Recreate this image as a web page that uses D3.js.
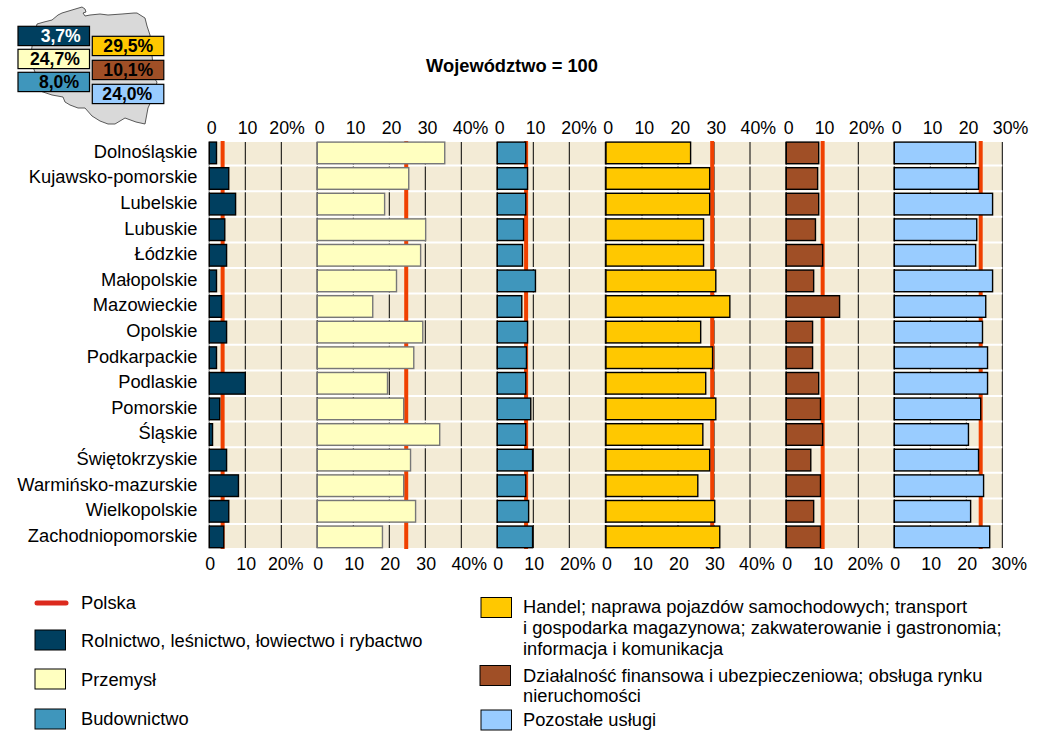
<!DOCTYPE html>
<html>
<head>
<meta charset="utf-8">
<script src="https://cdn.jsdelivr.net/npm/d3@7"></script>
<style>
  body { margin: 0; background: #fff; }
  text { font-family: "Liberation Sans", Arial, sans-serif; fill: #000; }
</style>
</head>
<body>
<div id="chart"></div>
<script>
const regions = ["Dolnośląskie", "Kujawsko-pomorskie", "Lubelskie", "Lubuskie", "Łódzkie", "Małopolskie", "Mazowieckie", "Opolskie", "Podkarpackie", "Podlaskie", "Pomorskie", "Śląskie", "Świętokrzyskie", "Warmińsko-mazurskie", "Wielkopolskie", "Zachodniopomorskie"];

const rolnictwo = [2.0, 5.4, 7.3, 4.3, 4.8, 2.0, 3.4, 4.8, 2.0, 10.0, 2.9, 0.9, 4.8, 8.1, 5.4, 4.0];
const przemysl = [35.4, 25.4, 18.7, 30.1, 28.7, 22.0, 15.4, 29.3, 26.8, 19.5, 24.0, 34.0, 25.9, 24.0, 27.3, 18.1];
const budownictwo = [7.9, 8.4, 7.9, 7.3, 7.0, 10.6, 6.8, 8.4, 8.1, 7.9, 9.3, 7.9, 9.8, 7.9, 8.7, 9.8];
const handel = [23.5, 28.8, 28.8, 27.1, 27.1, 30.5, 34.4, 26.3, 29.6, 27.7, 30.5, 26.9, 28.8, 25.5, 30.2, 31.6];
const finanse = [9.0, 8.7, 9.0, 8.1, 10.1, 7.6, 14.8, 7.3, 7.3, 9.0, 9.5, 10.1, 6.8, 9.5, 7.6, 9.5];
const uslugi = [22.6, 23.4, 27.3, 22.9, 22.6, 27.3, 25.4, 24.5, 25.9, 25.9, 24.0, 20.6, 23.4, 24.8, 21.2, 26.5];

const polska = [3.7, 24.7, 8.0, 29.5, 10.1, 24.0];
const polskaLabels = ["3,7%", "24,7%", "8,0%", "29,5%", "10,1%", "24,0%"];

const ticks20 = [0, 10, 20];
const ticks30 = [0, 10, 20, 30];
const ticks40 = [0, 10, 20, 30, 40];

const colors = ["#003f5f", "#ffffc0", "#3f96bc", "#ffc800", "#a04f26", "#99ccff"];

const mapOutline = [[37, 24], [44, 22], [52, 20], [58, 15], [62, 13], [72, 10], [82, 7], [85, 9], [86, 12], [83, 13], [85, 16], [90, 15], [100, 14], [108, 15], [122, 14], [134, 13], [137, 13], [145, 18], [147, 26], [150, 35], [152, 55], [154, 78], [157, 82], [155, 90], [153, 97], [148, 108], [145, 124], [136, 122], [125, 118], [120, 121], [115, 124], [108, 124], [100, 121], [92, 116], [85, 108], [78, 108], [70, 105], [65, 102], [63, 97], [52, 95], [43, 92], [37, 90], [35, 72], [30, 60], [33, 40]];

const panels = [
    { values: rolnictwo, ticks: ticks20, left: 209.3, right: 317.3, max: 30, stroke: "#000", pctShift: 4.5 },
    { values: przemysl, ticks: ticks40, left: 317.3, right: 497.3, max: 50, stroke: "#777", pctShift: 8 },
    { values: budownictwo, ticks: ticks20, left: 497.3, right: 605.3, max: 30, stroke: "#000", pctShift: 8.5 },
    { values: handel, ticks: ticks40, left: 606, right: 786, max: 50, stroke: "#000", pctShift: 7 },
    { values: finanse, ticks: ticks20, left: 786.3, right: 894.3, max: 30, stroke: "#000", pctShift: 7 },
    { values: uslugi, ticks: ticks30, left: 894.3, right: 1002.3, max: 30, stroke: "#000", pctShift: 7 }
];

const svg = d3.select("#chart").append("svg")
    .attr("width", 1043)
    .attr("height", 744);

const y = d3.scaleBand().domain(regions).range([140, 549.6]);
const fontSize = 18.3;
const tickFontSize = 17.8;

// map with the national values
svg.append("path")
    .attr("d", d3.line().curve(d3.curveLinearClosed)(mapOutline))
    .attr("fill", "#d9d9d9")
    .attr("stroke", "#333")
    .attr("stroke-width", 0.8);

const mapBoxes = [[18, 26.3], [18, 49.3], [18, 72.3], [92.3, 36.3], [92.3, 60.3], [92.3, 84.3]];
const mapLabelOffsets = [42.7, 37, 41, 36, 36, 35];
polska.forEach((v, i) => {
    const g = svg.append("g").attr("transform", `translate(${mapBoxes[i][0]}, ${mapBoxes[i][1]})`);
    g.append("rect")
        .attr("width", 71.5)
        .attr("height", 19.3)
        .attr("fill", colors[i])
        .attr("stroke", "#000")
        .attr("stroke-width", 1.2);
    g.append("text")
        .attr("x", mapLabelOffsets[i])
        .attr("y", 9.7)
        .attr("dy", "0.36em")
        .attr("text-anchor", "middle")
        .attr("font-weight", "bold")
        .attr("font-size", 17.6)
        .style("fill", i === 0 ? "#fff" : "#000")
        .text(polskaLabels[i]);
});

svg.append("text")
    .attr("x", 512)
    .attr("y", 65)
    .attr("dy", "0.36em")
    .attr("text-anchor", "middle")
    .attr("font-weight", "bold")
    .attr("font-size", fontSize)
    .text("Województwo = 100");

// background, grid, separators
svg.append("rect")
    .attr("x", 209.3)
    .attr("y", 142)
    .attr("width", 793)
    .attr("height", 406)
    .attr("fill", "#f3ebd6");

panels.forEach((p) => {
    p.x = d3.scaleLinear().domain([0, p.max]).range([p.left, p.right]);
    const gridTicks = p.x.ticks(p.max / 10);
    svg.append("g")
        .selectAll("line")
        .data(gridTicks)
        .enter()
        .append("line")
        .attr("x1", (d) => p.x(d))
        .attr("x2", (d) => p.x(d))
        .attr("y1", 142)
        .attr("y2", 548)
        .attr("stroke", "#000")
        .attr("stroke-width", 1);
});

svg.append("g")
    .selectAll("line")
    .data(regions.slice(1))
    .enter()
    .append("line")
    .attr("x1", 209.3)
    .attr("x2", 1002.3)
    .attr("y1", (d) => y(d))
    .attr("y2", (d) => y(d))
    .attr("stroke", "#fff")
    .attr("stroke-width", 2);

panels.forEach((p, i) => {
    svg.append("line")
        .attr("x1", p.x(polska[i]))
        .attr("x2", p.x(polska[i]))
        .attr("y1", 141)
        .attr("y2", 549)
        .attr("stroke", "#f04000")
        .attr("stroke-width", 4);

    svg.append("g")
        .selectAll("rect")
        .data(p.values)
        .enter()
        .append("rect")
        .attr("x", p.x(0))
        .attr("y", (d, j) => y(regions[j]) + 2.1)
        .attr("width", (d) => p.x(d) - p.x(0))
        .attr("height", 21.6)
        .attr("fill", colors[i])
        .attr("stroke", p.stroke)
        .attr("stroke-width", 1.4);

    const drawAxis = (axis, ypos, base) => {
        const g = svg.append("g")
            .attr("transform", `translate(0, ${ypos})`)
            .call(axis.tickValues(p.ticks).tickSize(0).tickPadding(0)
                .tickFormat((d) => d === d3.max(p.ticks) ? `${d}%` : d));
        g.select(".domain").remove();
        g.selectAll("text")
            .attr("font-size", tickFontSize)
            .attr("font-family", null)
            .attr("y", 0)
            .attr("dy", "0.36em")
            .attr("dx", (d) => (d === d3.max(p.ticks) ? p.pctShift : 1) + base);
    };
    drawAxis(d3.axisTop(p.x), 128, 0.8);
    drawAxis(d3.axisBottom(p.x), 564, -0.6);
});

// region labels
svg.append("g")
    .selectAll("text")
    .data(regions)
    .enter()
    .append("text")
    .attr("x", 197.5)
    .attr("y", (d) => y(d) + y.bandwidth() / 2 - 1.5)
    .attr("dy", "0.36em")
    .attr("text-anchor", "end")
    .attr("font-size", fontSize)
    .text((d) => d);

// legend
svg.append("line")
    .attr("x1", 37)
    .attr("x2", 66)
    .attr("y1", 603)
    .attr("y2", 603)
    .attr("stroke", "#dc2a1e")
    .attr("stroke-width", 5)
    .attr("stroke-linecap", "round");

const legendItems = [
    { color: 0, x: 35, y: 630, lines: [["Rolnictwo, leśnictwo, łowiectwo i rybactwo", 640.5]] },
    { color: 1, x: 35, y: 669, lines: [["Przemysł", 679]] },
    { color: 2, x: 35, y: 709, lines: [["Budownictwo", 718.5]] },
    { color: 3, x: 481, y: 597.5, lines: [["Handel; naprawa pojazdów samochodowych; transport", 606.5], ["i gospodarka magazynowa; zakwaterowanie i gastronomia;", 627.5], ["informacja i komunikacja", 648.5]] },
    { color: 4, x: 480, y: 665.5, lines: [["Działalność finansowa i ubezpieczeniowa; obsługa rynku", 675], ["nieruchomości", 695.5]] },
    { color: 5, x: 481, y: 710, lines: [["Pozostałe usługi", 719.5]] }
];

legendItems.forEach((item) => {
    svg.append("rect")
        .attr("x", item.x)
        .attr("y", item.y)
        .attr("width", 30.5)
        .attr("height", 20)
        .attr("fill", colors[item.color])
        .attr("stroke", "#000")
        .attr("stroke-width", 1);
    item.lines.forEach(([t, ty]) => {
        svg.append("text")
            .attr("x", item.x < 100 ? 81 : 523)
            .attr("y", ty)
            .attr("dy", "0.36em")
            .attr("font-size", fontSize)
            .text(t);
    });
});

svg.append("text")
    .attr("x", 81)
    .attr("y", 602.5)
    .attr("dy", "0.36em")
    .attr("font-size", fontSize)
    .text("Polska");
</script>
</body>
</html>
